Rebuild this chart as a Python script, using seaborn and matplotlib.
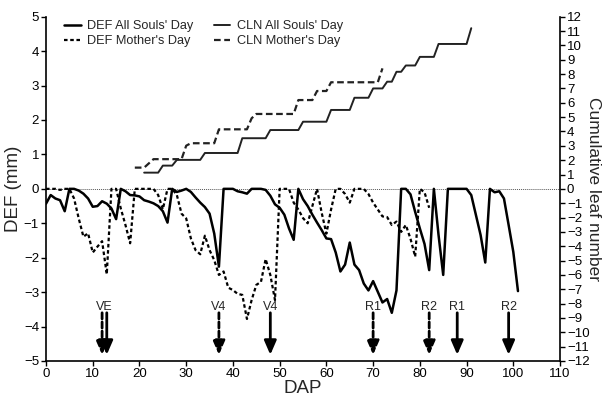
import numpy as np
import pandas as pd
import seaborn as sns
import matplotlib
matplotlib.use('Agg')
import matplotlib.pyplot as plt

# DEF (mm), daily values
def_asd_days = list(range(0, 102))
def_asd = [-0.43, -0.18, -0.28, -0.33, -0.65, 0, 0, -0.05, -0.14, -0.28,
           -0.52, -0.5, -0.36, -0.43, -0.57, -0.88, 0, -0.07, -0.18, -0.19,
           -0.22, -0.33, -0.37, -0.42, -0.5, -0.65, -0.98, 0, -0.09, -0.05,
           0, -0.09, -0.25, -0.4, -0.53, -0.72, -1.3, -2.26, 0, 0,
           0, -0.07, -0.1, -0.14, 0, 0, 0, -0.03, -0.2, -0.45,
           -0.55, -0.75, -1.15, -1.48, 0, -0.3, -0.5, -0.75, -0.98, -1.2,
           -1.44, -1.46, -1.85, -2.4, -2.2, -1.56, -2.2, -2.36, -2.75, -2.95,
           -2.68, -2.99, -3.3, -3.2, -3.6, -2.95, 0, 0, -0.16, -0.67,
           -1.15, -1.6, -2.36, 0, -1.34, -2.5, 0, 0, 0, 0,
           0, -0.18, -0.76, -1.34, -2.14, 0, -0.1, -0.07, -0.28, -1.05,
           -1.83, -2.97]

def_md_days = list(range(0, 83))
def_md = [0, 0, 0, -0.03, 0, 0, -0.28, -0.86, -1.39, -1.29,
          -1.85, -1.68, -1.52, -2.48, 0, 0, -0.57, -1.05, -1.58, 0,
          0, 0, 0, 0, -0.18, -0.59, 0, 0, -0.18, -0.72,
          -0.86, -1.44, -1.78, -1.9, -1.36, -1.78, -2.07, -2.5, -2.4, -2.87,
          -2.94, -3.05, -3.08, -3.78, -3.23, -2.79, -2.7, -2.04, -2.5, -3.23,
          0, 0, 0, -0.4, -0.6, -0.85, -1.0, -0.5, 0, -0.7,
          -1.3, -0.6, 0, 0, -0.15, -0.4, 0, 0, 0, -0.15,
          -0.4, -0.6, -0.8, -0.82, -1.05, -0.95, -1.25, -1.05, -1.45, -1.97,
          0, -0.1, -0.55]

# cumulative leaf number
cln_asd_days = [21, 24, 25, 27, 28, 33, 34, 41, 42, 47, 48, 54, 55, 60, 61, 65,
                66, 69, 70, 72, 73, 74, 75, 76, 77, 79, 80, 83, 84, 90, 91]
cln_asd = [1.13, 1.13, 1.62, 1.62, 2.02, 2.02, 2.5, 2.5, 3.53, 3.53, 4.1, 4.1,
           4.68, 4.68, 5.5, 5.5, 6.35, 6.35, 7.0, 7.0, 7.47, 7.47, 8.16, 8.16,
           8.6, 8.6, 9.2, 9.2, 10.1, 10.1, 11.2]

cln_md_days = [19, 21, 23, 29, 30, 31, 36, 37, 43, 44, 45, 53, 54, 57, 58, 60,
               61, 71, 72]
cln_md = [1.48, 1.48, 2.07, 2.07, 3.01, 3.18, 3.18, 4.15, 4.15, 4.92, 5.22,
          5.22, 6.19, 6.19, 6.82, 6.82, 7.43, 7.43, 8.4]

# growth stages
md_stage_labels = ['VE', 'V4', 'R1', 'R2']
md_stage_days = [12, 37, 70, 82]
asd_stage_labels = ['VE', 'V4', 'R1', 'R2']
asd_stage_days = [13, 48, 88, 99]

sns.set_style('ticks')
plt.rcParams['font.family'] = ['Liberation Sans', 'DejaVu Sans']

fig = plt.figure(figsize=(6.08, 3.96), dpi=100)
ax = fig.add_axes([0.0757, 0.0884, 0.8454, 0.8694])
ax2 = ax.twinx()

ax.axhline(0, color='#555555', lw=0.7, ls=(0, (1, 1)), zorder=1)

sns.lineplot(x=def_asd_days, y=def_asd, ax=ax, color='black', lw=1.8,
             label="DEF All Souls' Day", legend=False)
sns.lineplot(x=def_md_days, y=def_md, ax=ax, color='black', lw=1.6,
             linestyle=(0, (1.6, 1.2)), label="DEF Mother's Day", legend=False)
sns.lineplot(x=cln_asd_days, y=cln_asd, ax=ax2, color='#222222', lw=1.4,
             label="CLN All Souls' Day", legend=False)
sns.lineplot(x=cln_md_days, y=cln_md, ax=ax2, color='#222222', lw=1.6,
             linestyle=(0, (3, 1.6)), label="CLN Mother's Day", legend=False)

# stage arrows
def draw_arrows(days, dashed):
    for d in days:
        ax.annotate('', xy=(d, -4.82), xytext=(d, -3.6),
                    arrowprops=dict(arrowstyle='-|>,head_width=0.26,head_length=0.6',
                                    lw=2.0, color='black',
                                    linestyle=(0, (2.2, 1.1)) if dashed else '-',
                                    shrinkA=0, shrinkB=0, mutation_scale=14))

draw_arrows(md_stage_days, True)
draw_arrows(asd_stage_days, False)

placed = []
for lab, d in list(zip(md_stage_labels, md_stage_days)) + list(zip(asd_stage_labels, asd_stage_days)):
    near = [p for p in placed if p[0] == lab and abs(p[1] - d) < 3]
    if near:
        continue
    same = [x for l, x in zip(asd_stage_labels, asd_stage_days) if l == lab and abs(x - d) < 3]
    same += [x for l, x in zip(md_stage_labels, md_stage_days) if l == lab and abs(x - d) < 3]
    xc = np.mean(same)
    ax.text(xc, -3.43, lab, ha='center', va='center', fontsize=9)
    placed.append((lab, d))

ax.set_xlim(0, 110)
ax.set_ylim(-5, 5)
ax.set_xticks(range(0, 111, 10))
ax.set_yticks(range(-5, 6))
ax2.set_ylim(-12, 12)
ax2.set_yticks(range(-12, 13))

ax.set_xlabel('DAP', fontsize=13.5, labelpad=0)
ax.set_ylabel('DEF (mm)', fontsize=13.5, labelpad=1)
ax2.set_ylabel('Cumulative leaf number', fontsize=12.5, rotation=270, labelpad=8)

for a in (ax, ax2):
    a.tick_params(labelsize=9.5, length=3.5, width=1, pad=1.5, colors='black')
    for s in a.spines.values():
        s.set_linewidth(1.2)
        s.set_color('black')
    a.spines['top'].set_visible(False)
ax.spines['right'].set_visible(False)
ax2.spines['left'].set_visible(False)
ax2.spines['bottom'].set_visible(False)

h1, l1 = ax.get_legend_handles_labels()
h2, l2 = ax2.get_legend_handles_labels()
ax.legend(h1 + h2, l1 + l2, ncol=2, loc='upper left', bbox_to_anchor=(0.025, 1.005),
          frameon=False, fontsize=9.2, handlelength=1.3, handletextpad=0.5,
          columnspacing=1.6, labelspacing=0.25, borderaxespad=0)

fig.savefig('out.png', dpi=100)
